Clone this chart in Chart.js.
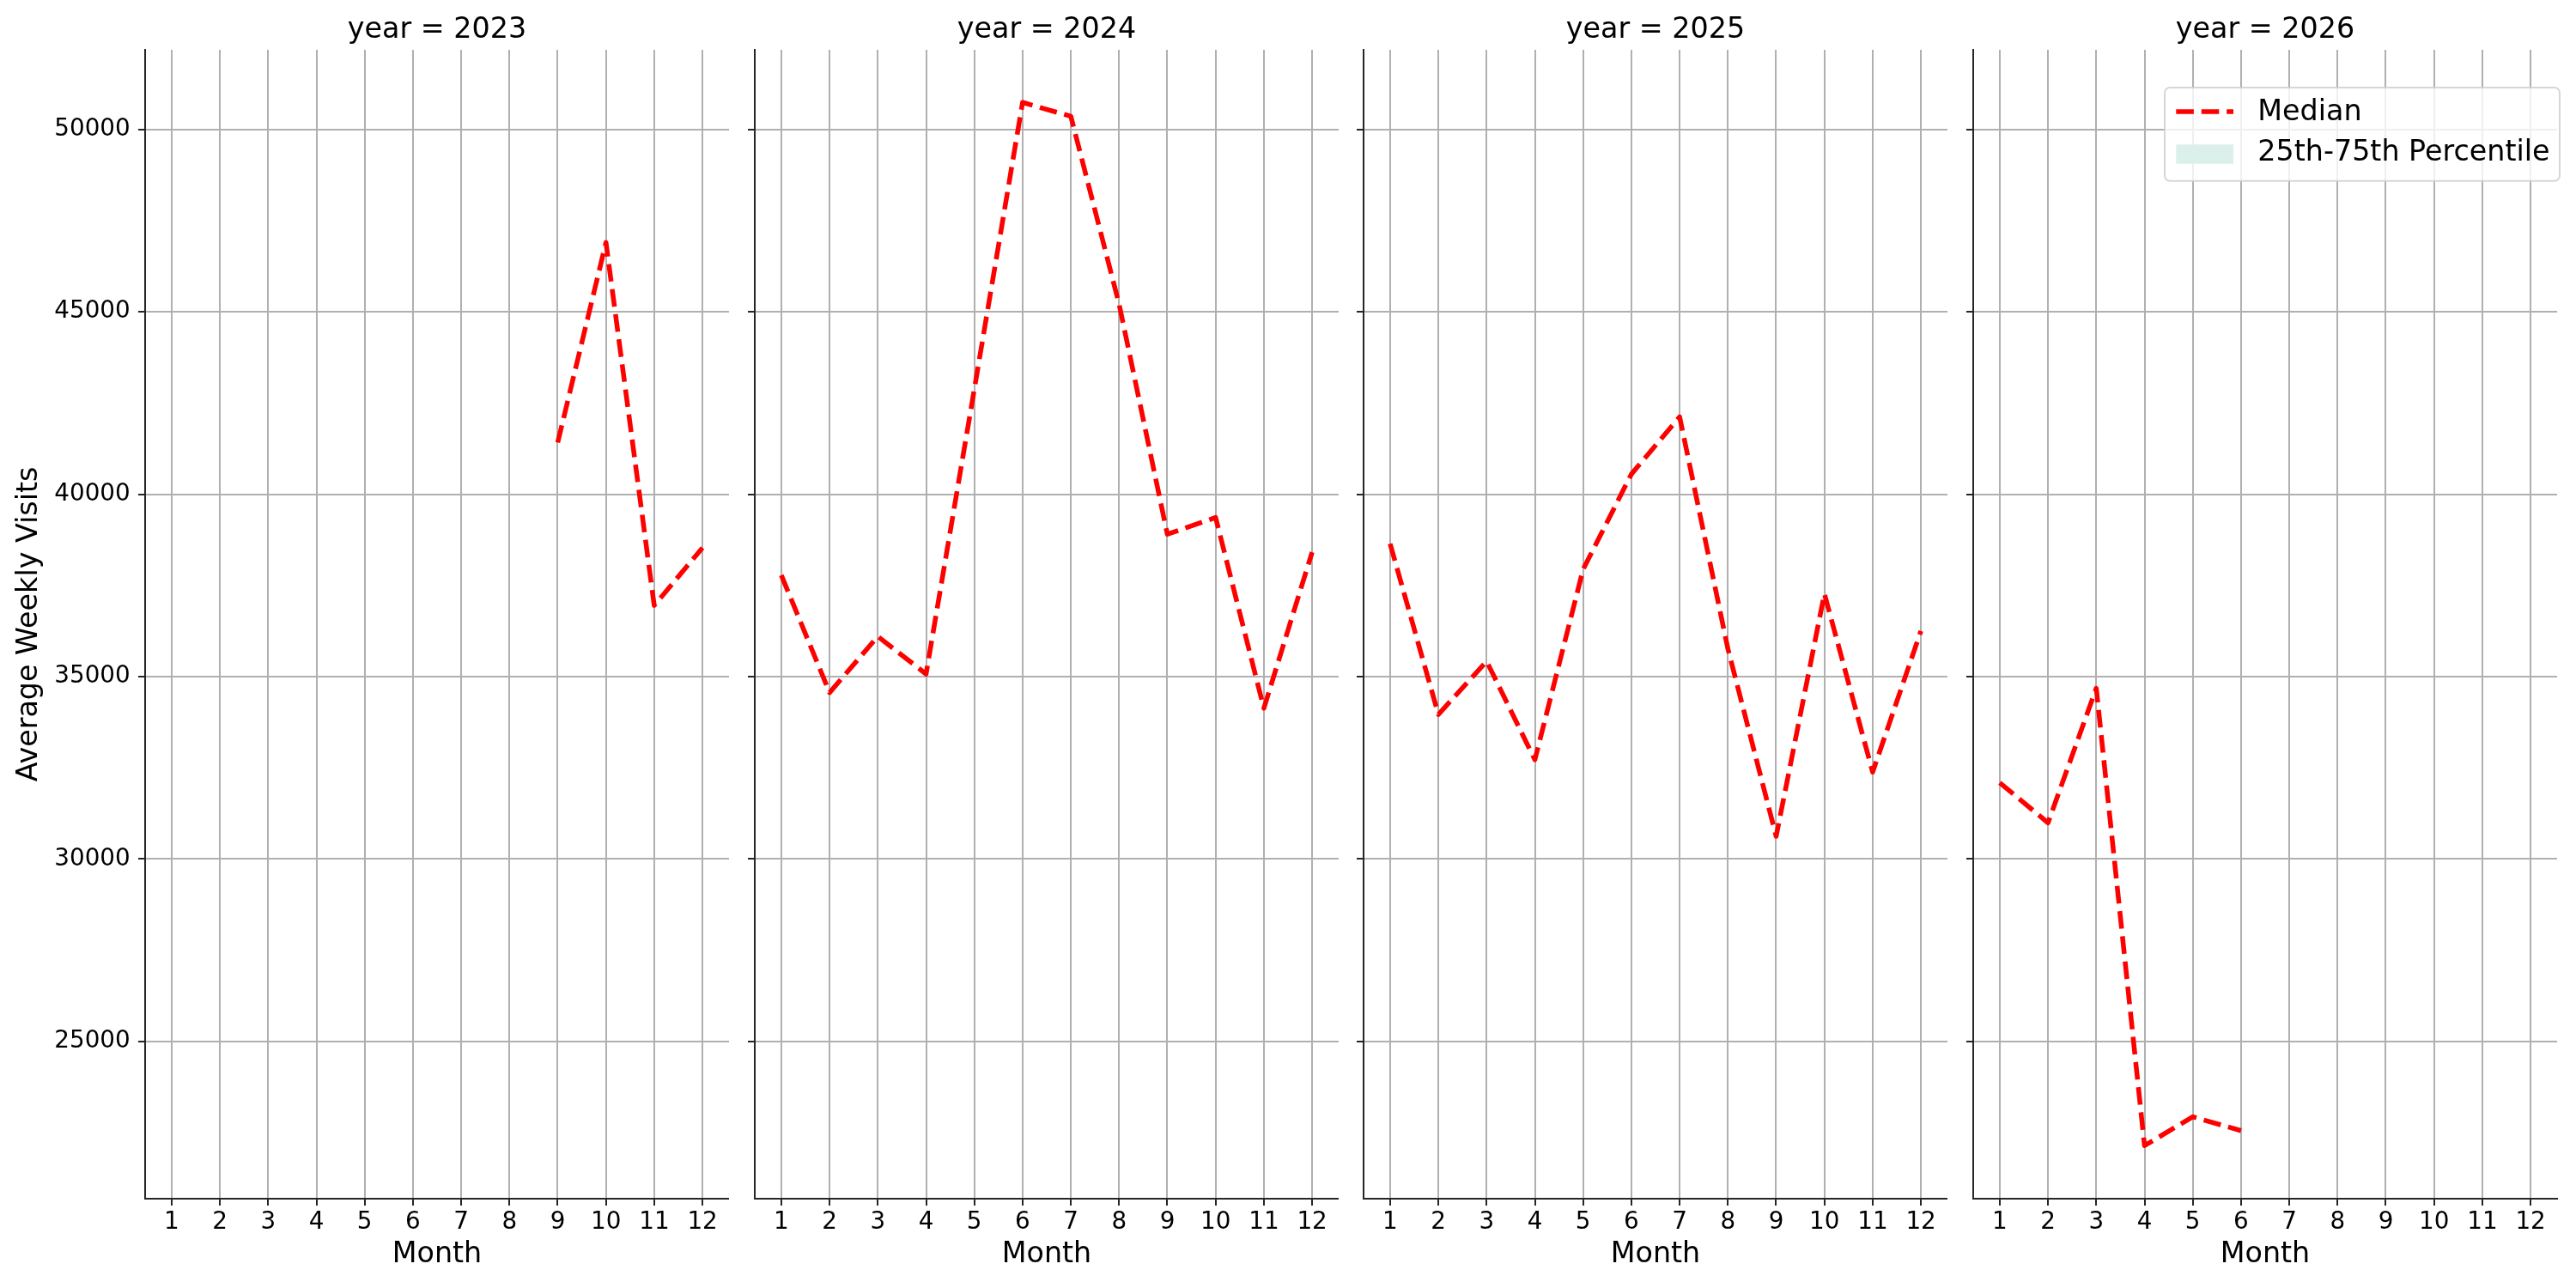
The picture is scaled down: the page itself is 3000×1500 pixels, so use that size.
<!DOCTYPE html>
<html>
<head>
<meta charset="utf-8">
<script src="https://cdn.jsdelivr.net/npm/chart.js@4.4.0/dist/chart.umd.min.js"></script>
<style>
html, body { margin: 0; padding: 0; background: #ffffff; }
#wrap { position: relative; width: 3000px; height: 1500px; background: #ffffff; overflow: hidden; }
#wrap canvas { position: absolute; top: 0; }
</style>
</head>
<body>
<div id="wrap"></div>
<script>
// ---------------- data ----------------
const years = [2023, 2024, 2025, 2026];
const months = [1, 2, 3, 4, 5, 6, 7, 8, 9, 10, 11, 12];
const median2023 = [null, null, null, null, null, null, null, null, 41415, 46900, 36950, 38530];
const median2024 = [37780, 34560, 36100, 35070, 42880, 50740, 50360, 45210, 38900, 39360, 34130, 38410];
const median2025 = [38640, 33960, 35420, 32720, 37940, 40550, 42120, 35760, 30620, 37270, 32380, 36250];
const median2026 = [32090, 30990, 34680, 22140, 22930, 22550, null, null, null, null, null, null];
const yTicks = [25000, 30000, 35000, 40000, 45000, 50000];
const seriesLabels = ['Median', '25th-75th Percentile'];
const medians = [median2023, median2024, median2025, median2026];

// ---------------- layout / style ----------------
const FONT = "'DejaVu Sans', 'Liberation Sans', sans-serif";
const Y_MIN = 20685, Y_MAX = 52183;
const X_MIN = 0.45, X_MAX = 12.55;
const panels = [
  { canvasLeft: 0,    plotLeft: 169,  plotRight: 849,  padRight: 0 },
  { canvasLeft: 859,  plotLeft: 879,  plotRight: 1559, padRight: 0 },
  { canvasLeft: 1568, plotLeft: 1588, plotRight: 2268, padRight: 0 },
  { canvasLeft: 2278, plotLeft: 2298, plotRight: 2978, padRight: 22 }
];
const RED = '#ff0000';
const BAND = 'rgb(220,240,235)';
const SPINE = '#262626';
const GRID = '#b0b0b0';
const LW = 5.56;
const DASH = [20.56, 8.89];

const wrap = document.getElementById('wrap');

function legendPluginFor(canvasLeft) {
  return {
    id: 'mplLegend',
    afterDraw(chart) {
      const ctx = chart.ctx;
      const ox = -canvasLeft;
      const ds = chart.data.datasets;
      ctx.save();
      // frame
      const bx = 2521 + ox, by = 102, bw = 460, bh = 108.7, r = 6;
      ctx.beginPath();
      ctx.roundRect(bx, by, bw, bh, r);
      ctx.fillStyle = 'rgba(255,255,255,0.8)';
      ctx.fill();
      ctx.lineWidth = 2;
      ctx.strokeStyle = 'rgba(204,204,204,0.8)';
      ctx.stroke();
      // median handle
      ctx.beginPath();
      ctx.setLineDash(ds[0].borderDash);
      ctx.lineCap = 'butt';
      ctx.lineWidth = ds[0].borderWidth;
      ctx.strokeStyle = ds[0].borderColor;
      ctx.moveTo(2534.3 + ox, 130);
      ctx.lineTo(2601 + ox, 130);
      ctx.stroke();
      ctx.setLineDash([]);
      // band handle
      ctx.fillStyle = ds[1].backgroundColor;
      ctx.fillRect(2534.3 + ox, 168.3, 66.7, 22.4);
      // texts
      ctx.fillStyle = '#000000';
      ctx.font = "33.33px " + FONT;
      ctx.textBaseline = 'middle';
      ctx.textAlign = 'left';
      ctx.fillText(ds[0].label, 2629.3 + ox, 131);
      ctx.fillText(ds[1].label, 2629.3 + ox, 178);
      ctx.restore();
    }
  };
}

years.forEach((year, i) => {
  const p = panels[i];
  const w = p.plotRight - p.canvasLeft + p.padRight;
  const cv = document.createElement('canvas');
  cv.width = w; cv.height = 1500;
  cv.style.left = p.canvasLeft + 'px';
  cv.style.width = w + 'px';
  cv.style.height = '1500px';
  wrap.appendChild(cv);
  const yAxisW = p.plotLeft - p.canvasLeft;
  const first = i === 0;

  new Chart(cv, {
    type: 'line',
    data: {
      datasets: [
        {
          label: seriesLabels[0],
          data: months.map((m, k) => ({ x: m, y: medians[i][k] })),
          borderColor: RED,
          backgroundColor: RED,
          borderWidth: LW,
          borderDash: DASH,
          borderCapStyle: 'butt',
          borderJoinStyle: 'round',
          pointRadius: 0,
          pointHoverRadius: 0,
          fill: false,
          tension: 0,
          spanGaps: false
        },
        {
          label: seriesLabels[1],
          data: [],
          borderColor: BAND,
          backgroundColor: BAND,
          borderWidth: 0,
          pointRadius: 0,
          fill: false
        }
      ]
    },
    options: {
      responsive: false,
      animation: false,
      devicePixelRatio: 1,
      events: [],
      layout: { padding: { left: 0, right: p.padRight, top: 0, bottom: 0 } },
      plugins: {
        legend: { display: false },
        tooltip: { enabled: false },
        title: {
          display: true,
          text: 'year = ' + year,
          fullSize: false,
          color: '#000000',
          font: { family: FONT, size: 33.33, weight: 'normal', lineHeight: 1.2 },
          padding: { top: 15.3, bottom: 2.7 }
        }
      },
      scales: {
        x: {
          type: 'linear',
          min: X_MIN,
          max: X_MAX,
          afterBuildTicks: (s) => { s.ticks = months.map(v => ({ value: v })); },
          afterFit: (s) => { s.height = 104; },
          grid: { color: GRID, lineWidth: 2, drawTicks: true, tickLength: 8, tickColor: SPINE, tickWidth: 2 },
          border: { display: true, color: SPINE, width: 2 },
          ticks: {
            color: '#000000',
            font: { family: FONT, size: 27.8, lineHeight: 1.2 },
            padding: 2.6,
            autoSkip: false,
            maxRotation: 0,
            minRotation: 0,
            callback: (v) => String(v)
          },
          title: {
            display: true,
            text: 'Month',
            color: '#000000',
            font: { family: FONT, size: 33.33, lineHeight: 1.2 },
            padding: { top: 0, bottom: 19 }
          }
        },
        y: {
          type: 'linear',
          min: Y_MIN,
          max: Y_MAX,
          afterBuildTicks: (s) => { s.ticks = yTicks.map(v => ({ value: v })); },
          afterFit: (s) => { s.width = yAxisW; },
          grid: { color: GRID, lineWidth: 2, drawTicks: true, tickLength: 8, tickColor: SPINE, tickWidth: 2 },
          border: { display: true, color: SPINE, width: 2 },
          ticks: {
            display: first,
            color: '#000000',
            font: { family: FONT, size: 27.8, lineHeight: 1.2 },
            padding: 9.3,
            callback: (v) => String(v)
          },
          title: {
            display: first,
            text: 'Average Weekly Visits',
            color: '#000000',
            font: { family: FONT, size: 33.33, lineHeight: 1.2 },
            padding: { top: 14, bottom: 0 }
          }
        }
      }
    },
    plugins: i === 3 ? [legendPluginFor(p.canvasLeft)] : []
  });
});
</script>
</body>
</html>
